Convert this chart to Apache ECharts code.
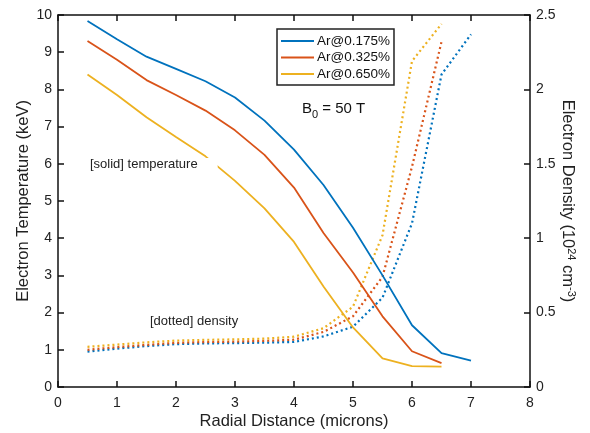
<!DOCTYPE html>
<html>
<head>
<meta charset="utf-8">
<script src="https://cdn.jsdelivr.net/npm/echarts@6/dist/echarts.min.js"></script>
<style>html,body{margin:0;padding:0;background:#fff}#c{width:590px;height:433px}</style>
</head>
<body>
<div id="c"></div>
<script>
const seriesNames = ['Ar@0.175%', 'Ar@0.325%', 'Ar@0.650%'];
const colors = ['#0072BD', '#D95319', '#EDB120'];
const xBlue = [0.5,1,1.5,2,2.5,3,3.5,4,4.5,5,5.5,6,6.5,7];
const xOther = [0.5,1,1.5,2,2.5,3,3.5,4,4.5,5,5.5,6,6.5];
const tempBlue = [9.84,9.35,8.88,8.55,8.22,7.78,7.16,6.38,5.43,4.28,3.0,1.66,0.91,0.71];
const tempRed = [9.3,8.8,8.25,7.85,7.43,6.9,6.24,5.36,4.14,3.08,1.9,0.96,0.64];
const tempYellow = [8.4,7.85,7.25,6.72,6.2,5.54,4.8,3.9,2.7,1.6,0.77,0.56,0.55];
const densBlue = [0.238,0.258,0.275,0.288,0.293,0.295,0.298,0.303,0.34,0.405,0.6,1.1,2.1,2.37];
const densRed = [0.25,0.268,0.283,0.297,0.302,0.305,0.31,0.318,0.37,0.475,0.74,1.48,2.32];
const densYellow = [0.27,0.285,0.3,0.312,0.317,0.32,0.325,0.338,0.395,0.54,1.02,2.19,2.44];

const pair = (xs, ys) => xs.map((x, i) => [x, ys[i]]);
const FONT = 'Liberation Sans';
const NAME_SIZE = 16.5;

function solid(name, xs, ys, c) {
  return {name, type: 'line', xAxisIndex: 0, yAxisIndex: 0, data: pair(xs, ys), symbol: 'none',
    lineStyle: {color: c, width: 1.8}, itemStyle: {color: c}, animation: false, z: 3};
}
function dotted(name, xs, ys, c) {
  return {name, type: 'line', xAxisIndex: 0, yAxisIndex: 1, data: pair(xs, ys), symbol: 'none',
    lineStyle: {color: c, width: 2.2, type: [2, 3]}, itemStyle: {color: c}, animation: false, z: 2};
}

const axisLine = {show: true, onZero: false, lineStyle: {color: '#111', width: 1.5}};
const axisTick = {show: true, inside: true, length: 6, lineStyle: {color: '#111', width: 1.5}};
const axisLabel = {color: '#222', fontSize: 14, fontFamily: FONT};

const chart = echarts.init(document.getElementById('c'), null, {renderer: 'canvas'});
chart.setOption({
  backgroundColor: '#fff',
  animation: false,
  grid: {left: 58, right: 60, top: 15, bottom: 46, containLabel: false, outerBoundsMode: 'none'},
  legend: {
    data: seriesNames, orient: 'vertical', left: 277, top: 29,
    icon: 'rect', itemWidth: 33, itemHeight: 2, itemGap: 2.5,
    padding: [5, 4, 4, 4], borderColor: '#222', borderWidth: 1.5, backgroundColor: '#fff',
    textStyle: {fontSize: 13.5, fontFamily: FONT, color: '#111', padding: [0, 0, 0, -2]}
  },
  xAxis: [
    {type: 'value', min: 0, max: 8, interval: 1, position: 'bottom',
      name: 'Radial Distance (microns)', nameLocation: 'middle', nameGap: 26, nameMoveOverlap: false,
      nameTextStyle: {fontSize: NAME_SIZE, fontFamily: FONT, color: '#222'},
      axisLine, axisTick, axisLabel: Object.assign({margin: 9}, axisLabel), splitLine: {show: false}},
    {type: 'value', min: 0, max: 8, interval: 1, position: 'top',
      axisLine, axisTick, axisLabel: {show: false}, splitLine: {show: false}}
  ],
  yAxis: [
    {type: 'value', min: 0, max: 10, interval: 1, position: 'left',
      name: 'Electron Temperature (keV)', nameLocation: 'middle', nameGap: 26, nameMoveOverlap: false,
      nameTextStyle: {fontSize: NAME_SIZE, fontFamily: FONT, color: '#222'},
      axisLine, axisTick, axisLabel: Object.assign({margin: 6}, axisLabel), splitLine: {show: false}},
    {type: 'value', min: 0, max: 2.5, interval: 0.5, position: 'right',
      name: '{a|Electron Density (10}{s|24}{a| cm}{s|-3}{a|)}', nameLocation: 'middle', nameGap: 28, nameRotate: -90,
      nameMoveOverlap: false,
      nameTextStyle: {fontSize: NAME_SIZE, fontFamily: FONT, color: '#222',
        rich: {a: {fontSize: NAME_SIZE, fontFamily: FONT, color: '#222'},
               s: {fontSize: 11, fontFamily: FONT, color: '#222', verticalAlign: 'top', padding: [0, 0, 8, 0]}}},
      axisLine, axisTick, axisLabel: Object.assign({margin: 6}, axisLabel), splitLine: {show: false}}
  ],
  graphic: [
    {type: 'text', left: 90, top: 158, z: 10,
      style: {text: '[solid] temperature', fontSize: 13, fontFamily: FONT, fill: '#222',
        backgroundColor: '#fff', padding: [0, 20, 0, 0]}},
    {type: 'text', left: 150, top: 315, z: 10,
      style: {text: '[dotted] density', fontSize: 13, fontFamily: FONT, fill: '#222'}},
    {type: 'text', left: 302, top: 101, z: 10, style: {text: '{a|B}{s|0}{a| = 50 T}', fill: '#111',
      rich: {a: {fontSize: 15, fontFamily: FONT, fill: '#111'}, s: {fontSize: 11, fontFamily: FONT, fill: '#111', padding: [12, 0, 0, 0]}}}}
  ],
  series: [
    dotted('Ar@0.175% density', xBlue, densBlue, colors[0]),
    dotted('Ar@0.325% density', xOther, densRed, colors[1]),
    dotted('Ar@0.650% density', xOther, densYellow, colors[2]),
    solid(seriesNames[0], xBlue, tempBlue, colors[0]),
    solid(seriesNames[1], xOther, tempRed, colors[1]),
    solid(seriesNames[2], xOther, tempYellow, colors[2])
  ]
});
</script>
</body>
</html>
